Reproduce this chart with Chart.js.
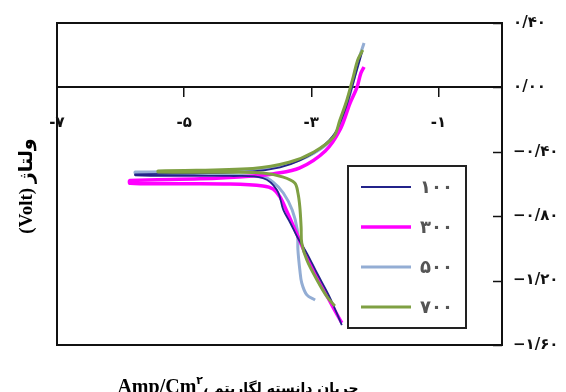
<!DOCTYPE html>
<html>
<head>
<meta charset="utf-8">
<script src="https://cdn.jsdelivr.net/npm/chart.js@4.4.1/dist/chart.umd.min.js"></script>
<style>
html,body{margin:0;padding:0;background:#fff}
#wrap{width:566px;height:392px;position:relative}
</style>
</head>
<body>
<div id="wrap"><canvas id="c" width="566" height="392"></canvas></div>
<script>
/* ===== داده‌ها: لگاریتم دانسیته جریان (x) و ولتاژ (y) ===== */
const seriesNames=['۱۰۰','۳۰۰','۵۰۰','۷۰۰'];
const seriesColors=['#23238a','#ff00ff','#93add4','#7fa043'];

const xTicks=[-7,-5,-3,-1];
const xTickText=['-۷','-۵','-۳','-۱'];
const yTicks=[0.4,0,-0.4,-0.8,-1.2,-1.6];
const yTickText=['۰/۴۰','۰/۰۰','−۰/۴۰','−۰/۸۰','−۱/۲۰','−۱/۶۰'];

// each curve: cathodic end (bottom) -> corrosion point (left) -> anodic end (top)
const logI100=[-2.52,-2.71,-2.91,-3.07,-3.22,-3.33,-3.44,-3.54,-3.76,-4.28,-5.07,-5.77,-5.77,-4.75,-3.92,-3.49,-3.18,-2.86,-2.63,-2.47,-2.36,-2.27,-2.20];
const volt100=[-1.476,-1.302,-1.153,-1.029,-0.929,-0.842,-0.761,-0.637,-0.563,-0.550,-0.550,-0.546,-0.540,-0.534,-0.521,-0.496,-0.453,-0.378,-0.285,-0.140,0.0,0.124,0.220];

const logI300=[-2.52,-2.66,-2.86,-3.07,-3.22,-3.38,-3.49,-3.60,-3.76,-4.28,-5.0,-5.85,-5.85,-4.75,-3.92,-3.59,-3.18,-2.78,-2.55,-2.39,-2.28,-2.22,-2.17];
const volt300=[-1.463,-1.364,-1.215,-1.053,-0.917,-0.774,-0.681,-0.631,-0.612,-0.600,-0.598,-0.596,-0.578,-0.568,-0.550,-0.536,-0.500,-0.395,-0.265,-0.097,0.002,0.089,0.127];

const logI500=[-2.94,-3.07,-3.15,-3.18,-3.21,-3.22,-3.30,-3.44,-3.60,-3.76,-4.75,-5.77,-5.77,-4.75,-3.92,-3.35,-2.96,-2.65,-2.47,-2.37,-2.27,-2.17];
const volt500=[-1.320,-1.289,-1.215,-1.134,-1.010,-0.886,-0.761,-0.656,-0.588,-0.557,-0.538,-0.532,-0.526,-0.521,-0.508,-0.472,-0.409,-0.310,-0.150,-0.010,0.152,0.276];

const logI700=[-2.63,-2.75,-2.91,-3.07,-3.15,-3.16,-3.18,-3.21,-3.26,-3.44,-3.76,-4.28,-5.41,-5.41,-3.92,-3.35,-2.96,-2.65,-2.55,-2.44,-2.34,-2.27,-2.19];
const volt700=[-1.358,-1.302,-1.196,-1.072,-0.966,-0.867,-0.743,-0.656,-0.594,-0.557,-0.532,-0.527,-0.525,-0.519,-0.503,-0.465,-0.401,-0.308,-0.202,-0.078,0.065,0.170,0.232];

const toPts=(xs,ys)=>xs.map((x,i)=>({x,y:ys[i]}));
const curves=[toPts(logI100,volt100),toPts(logI300,volt300),toPts(logI500,volt500),toPts(logI700,volt700)];
const widths=[1.8,3.5,3,3];
const drawOrder=[1,2,3,0]; // green on top, then navy, magenta, light blue

const frame={
  id:'frame',
  afterDatasetsDraw(chart){
    const {ctx,chartArea:a,scales:{y}}=chart;
    ctx.save();
    // box
    ctx.strokeStyle='#111';ctx.lineWidth=2;
    ctx.strokeRect(a.left,a.top,a.right-a.left,a.bottom-a.top);
    // inward ticks on right axis
    ctx.lineWidth=1.5;
    yTicks.forEach(v=>{
      const py=Math.round(y.getPixelForValue(v))+0.5;
      ctx.beginPath();ctx.moveTo(a.right-9,py);ctx.lineTo(a.right,py);ctx.stroke();
    });
    // legend box
    const lx=348,ly=166,lw=118,lh=162;
    ctx.fillStyle='#fff';ctx.fillRect(lx,ly,lw,lh);
    ctx.strokeStyle='#222';ctx.lineWidth=2;ctx.strokeRect(lx,ly,lw,lh);
    ctx.font='bold 18px "DejaVu Sans"';ctx.textBaseline='middle';ctx.textAlign='left';
    seriesNames.forEach((n,i)=>{
      const yy=187+i*40;
      ctx.strokeStyle=seriesColors[i];ctx.lineWidth=widths[i];
      ctx.beginPath();ctx.moveTo(361,yy);ctx.lineTo(411,yy);ctx.stroke();
      ctx.fillStyle='#555';ctx.fillText(n,420,yy+1);
    });
    // y title
    ctx.fillStyle='#000';
    ctx.translate(27,186);ctx.rotate(-Math.PI/2);
    ctx.font='bold 19px "Liberation Serif", "DejaVu Sans"';
    ctx.textAlign='center';ctx.textBaseline='middle';
    ctx.fillText('(Volt) ولتاژ',0,0);
    ctx.restore();
    // x title (partly cut at bottom edge)
    ctx.save();
    ctx.fillStyle='#000';ctx.textBaseline='alphabetic';ctx.textAlign='left';
    const f1='bold 20px "Liberation Serif"',f2='bold 11px "DejaVu Sans"',f3='bold 14px "DejaVu Sans"';
    const p1='Amp/Cm',p2='۲',p3='\u200E،\u200E لگاریتم\u200E دانسته\u200E جریان';
    ctx.font=f1;const w1=ctx.measureText(p1).width;
    ctx.font=f2;const w2=ctx.measureText(p2).width;
    ctx.font=f3;const w3=ctx.measureText(p3).width;
    let x0=238-(w1+w2+w3)/2;const base=393;
    ctx.font=f1;ctx.fillText(p1,x0,base);
    ctx.font=f2;ctx.fillText(p2,x0+w1,base-9);
    ctx.font=f3;ctx.fillText(p3,x0+w1+w2,base);
    ctx.restore();
  }
};

new Chart(document.getElementById('c'),{
  type:'scatter',
  data:{datasets:curves.map((pts,i)=>({
    label:seriesNames[i],data:pts,showLine:true,
    borderColor:seriesColors[i],backgroundColor:seriesColors[i],
    borderWidth:widths[i],pointRadius:0,tension:0.35,order:drawOrder[i]
  }))},
  options:{
    responsive:false,animation:false,
    layout:{padding:{left:57,top:23,bottom:47,right:0}},
    plugins:{legend:{display:false},tooltip:{enabled:false}},
    scales:{
      x:{type:'linear',min:-7,max:0,position:{y:0},
        afterBuildTicks:s=>{s.ticks=xTicks.map(v=>({value:v}));},
        grid:{drawOnChartArea:false,drawTicks:true,tickLength:9,color:'#111',lineWidth:1.5},
        border:{display:true,color:'#111',width:2},
        ticks:{padding:18,color:'#111',font:{family:'"DejaVu Sans"',size:15,weight:'bold'},
          callback:v=>{const i=xTicks.indexOf(v);return i>=0?xTickText[i]:'';}}},
      y:{type:'linear',position:'right',min:-1.6,max:0.4,
        afterBuildTicks:s=>{s.ticks=yTicks.map(v=>({value:v}));},
        afterFit:s=>{s.width=64;},
        grid:{display:false,drawTicks:false},
        border:{display:false},
        ticks:{padding:11,color:'#111',font:{family:'"DejaVu Sans"',size:15,weight:'bold'},
          callback:v=>{const i=yTicks.findIndex(t=>Math.abs(t-v)<1e-6);return i>=0?yTickText[i]:'';}}}
    }
  },
  plugins:[frame]
});
</script>
</body>
</html>
